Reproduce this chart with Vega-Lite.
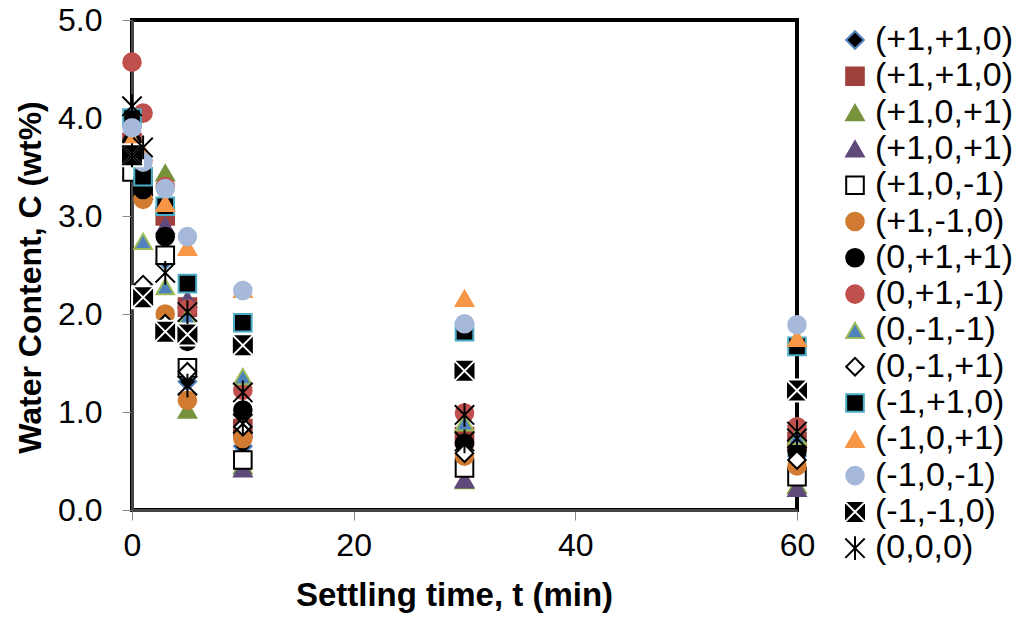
{
  "$schema": "https://vega.github.io/schema/vega-lite/v6.json",
  "width": 665,
  "height": 490,
  "autosize": "none",
  "padding": {"left": 132, "top": 20, "right": 220, "bottom": 112},
  "background": "white",
  "config": {
    "font": "Liberation Sans",
    "view": {"stroke": "black", "strokeWidth": 4},
    "axis": {"grid": false, "labelFont": "Liberation Sans", "titleFont": "Liberation Sans", "labelColor": "black", "titleColor": "black"}
  },
  "data": {
    "values": [
      {"s": "01|(+1,+1,0)", "t": 0, "c": 3.70}, {"s": "01|(+1,+1,0)", "t": 1, "c": 3.35}, {"s": "01|(+1,+1,0)", "t": 3, "c": 2.55}, {"s": "01|(+1,+1,0)", "t": 5, "c": 1.31}, {"s": "01|(+1,+1,0)", "t": 10, "c": 0.65}, {"s": "01|(+1,+1,0)", "t": 30, "c": 0.80}, {"s": "01|(+1,+1,0)", "t": 60, "c": 0.55},
      {"s": "02|(+1,+1,0)", "t": 0, "c": 3.75}, {"s": "02|(+1,+1,0)", "t": 1, "c": 3.40}, {"s": "02|(+1,+1,0)", "t": 3, "c": 3.00}, {"s": "02|(+1,+1,0)", "t": 5, "c": 2.07}, {"s": "02|(+1,+1,0)", "t": 10, "c": 0.83}, {"s": "02|(+1,+1,0)", "t": 30, "c": 0.75}, {"s": "02|(+1,+1,0)", "t": 60, "c": 0.70},
      {"s": "03|(+1,0,+1)", "t": 0, "c": 3.65}, {"s": "03|(+1,0,+1)", "t": 1, "c": 3.30}, {"s": "03|(+1,0,+1)", "t": 3, "c": 3.44}, {"s": "03|(+1,0,+1)", "t": 5, "c": 1.02}, {"s": "03|(+1,0,+1)", "t": 10, "c": 0.45}, {"s": "03|(+1,0,+1)", "t": 30, "c": 0.30}, {"s": "03|(+1,0,+1)", "t": 60, "c": 0.25},
      {"s": "04|(+1,0,+1)", "t": 0, "c": 3.60}, {"s": "04|(+1,0,+1)", "t": 1, "c": 3.25}, {"s": "04|(+1,0,+1)", "t": 3, "c": 2.90}, {"s": "04|(+1,0,+1)", "t": 5, "c": 2.15}, {"s": "04|(+1,0,+1)", "t": 10, "c": 0.42}, {"s": "04|(+1,0,+1)", "t": 30, "c": 0.31}, {"s": "04|(+1,0,+1)", "t": 60, "c": 0.22},
      {"s": "05|(+1,0,-1)", "t": 0, "c": 3.45}, {"s": "05|(+1,0,-1)", "t": 1, "c": 3.30}, {"s": "05|(+1,0,-1)", "t": 3, "c": 2.60}, {"s": "05|(+1,0,-1)", "t": 5, "c": 1.45}, {"s": "05|(+1,0,-1)", "t": 10, "c": 0.51}, {"s": "05|(+1,0,-1)", "t": 30, "c": 0.43}, {"s": "05|(+1,0,-1)", "t": 60, "c": 0.34},
      {"s": "06|(+1,-1,0)", "t": 0, "c": 3.70}, {"s": "06|(+1,-1,0)", "t": 1, "c": 3.17}, {"s": "06|(+1,-1,0)", "t": 3, "c": 2.00}, {"s": "06|(+1,-1,0)", "t": 5, "c": 1.12}, {"s": "06|(+1,-1,0)", "t": 10, "c": 0.73}, {"s": "06|(+1,-1,0)", "t": 30, "c": 0.55}, {"s": "06|(+1,-1,0)", "t": 60, "c": 0.45},
      {"s": "07|(0,+1,+1)", "t": 0, "c": 3.75}, {"s": "07|(0,+1,+1)", "t": 1, "c": 3.27}, {"s": "07|(0,+1,+1)", "t": 3, "c": 2.79}, {"s": "07|(0,+1,+1)", "t": 5, "c": 1.72}, {"s": "07|(0,+1,+1)", "t": 10, "c": 1.02}, {"s": "07|(0,+1,+1)", "t": 30, "c": 0.68}, {"s": "07|(0,+1,+1)", "t": 60, "c": 0.60},
      {"s": "08|(0,+1,-1)", "t": 0, "c": 4.57}, {"s": "08|(0,+1,-1)", "t": 1, "c": 4.05}, {"s": "08|(0,+1,-1)", "t": 3, "c": 3.30}, {"s": "08|(0,+1,-1)", "t": 5, "c": 2.05}, {"s": "08|(0,+1,-1)", "t": 10, "c": 1.22}, {"s": "08|(0,+1,-1)", "t": 30, "c": 0.99}, {"s": "08|(0,+1,-1)", "t": 60, "c": 0.85},
      {"s": "09|(0,-1,-1)", "t": 0, "c": 3.70}, {"s": "09|(0,-1,-1)", "t": 1, "c": 2.74}, {"s": "09|(0,-1,-1)", "t": 3, "c": 2.28}, {"s": "09|(0,-1,-1)", "t": 5, "c": 1.97}, {"s": "09|(0,-1,-1)", "t": 10, "c": 1.36}, {"s": "09|(0,-1,-1)", "t": 30, "c": 0.89}, {"s": "09|(0,-1,-1)", "t": 60, "c": 0.75},
      {"s": "10|(0,-1,+1)", "t": 0, "c": 3.60}, {"s": "10|(0,-1,+1)", "t": 1, "c": 2.30}, {"s": "10|(0,-1,+1)", "t": 3, "c": 1.90}, {"s": "10|(0,-1,+1)", "t": 5, "c": 1.41}, {"s": "10|(0,-1,+1)", "t": 10, "c": 0.85}, {"s": "10|(0,-1,+1)", "t": 30, "c": 0.58}, {"s": "10|(0,-1,+1)", "t": 60, "c": 0.51},
      {"s": "11|(-1,+1,0)", "t": 0, "c": 4.00}, {"s": "11|(-1,+1,0)", "t": 1, "c": 3.40}, {"s": "11|(-1,+1,0)", "t": 3, "c": 3.10}, {"s": "11|(-1,+1,0)", "t": 5, "c": 2.31}, {"s": "11|(-1,+1,0)", "t": 10, "c": 1.91}, {"s": "11|(-1,+1,0)", "t": 30, "c": 1.82}, {"s": "11|(-1,+1,0)", "t": 60, "c": 1.67},
      {"s": "12|(-1,0,+1)", "t": 0, "c": 3.78}, {"s": "12|(-1,0,+1)", "t": 1, "c": 3.65}, {"s": "12|(-1,0,+1)", "t": 3, "c": 3.13}, {"s": "12|(-1,0,+1)", "t": 5, "c": 2.68}, {"s": "12|(-1,0,+1)", "t": 10, "c": 2.25}, {"s": "12|(-1,0,+1)", "t": 30, "c": 2.16}, {"s": "12|(-1,0,+1)", "t": 60, "c": 1.75},
      {"s": "13|(-1,0,-1)", "t": 0, "c": 3.90}, {"s": "13|(-1,0,-1)", "t": 1, "c": 3.55}, {"s": "13|(-1,0,-1)", "t": 3, "c": 3.28}, {"s": "13|(-1,0,-1)", "t": 5, "c": 2.79}, {"s": "13|(-1,0,-1)", "t": 10, "c": 2.24}, {"s": "13|(-1,0,-1)", "t": 30, "c": 1.90}, {"s": "13|(-1,0,-1)", "t": 60, "c": 1.89},
      {"s": "14|(-1,-1,0)", "t": 0, "c": 3.62}, {"s": "14|(-1,-1,0)", "t": 1, "c": 2.17}, {"s": "14|(-1,-1,0)", "t": 3, "c": 1.82}, {"s": "14|(-1,-1,0)", "t": 5, "c": 1.79}, {"s": "14|(-1,-1,0)", "t": 10, "c": 1.68}, {"s": "14|(-1,-1,0)", "t": 30, "c": 1.42}, {"s": "14|(-1,-1,0)", "t": 60, "c": 1.22},
      {"s": "15|(0,0,0)", "t": 0, "c": 4.12}, {"s": "15|(0,0,0)", "t": 1, "c": 3.70}, {"s": "15|(0,0,0)", "t": 3, "c": 2.42}, {"s": "15|(0,0,0)", "t": 5, "c": 2.02}, {"s": "15|(0,0,0)", "t": 10, "c": 1.20}, {"s": "15|(0,0,0)", "t": 30, "c": 0.97}, {"s": "15|(0,0,0)", "t": 60, "c": 0.80},
      {"s": "15|(0,0,0)", "t": 0, "c": 3.62}, {"s": "15|(0,0,0)", "t": 5, "c": 1.27}, {"s": "15|(0,0,0)", "t": 10, "c": 0.88}, {"s": "15|(0,0,0)", "t": 30, "c": 0.70}, {"s": "15|(0,0,0)", "t": 60, "c": 0.73}
    ]
  },
  "mark": {"type": "point", "filled": true, "size": 310, "strokeWidth": 2, "opacity": 1},
  "encoding": {
    "x": {
      "field": "t", "type": "quantitative",
      "scale": {"domain": [0, 60], "nice": false},
      "axis": {"values": [0, 20, 40, 60], "title": "Settling time, t (min)", "titleFontSize": 33, "titleFontWeight": "bold", "labelFontSize": 32, "tickSize": 10, "tickColor": "#888", "domainColor": "#444", "domainWidth": 3, "labelPadding": 10, "titlePadding": 18, "titleX": 322, "labelFlush": false}
    },
    "y": {
      "field": "c", "type": "quantitative",
      "scale": {"domain": [0, 5], "nice": false},
      "axis": {"values": [0, 1, 2, 3, 4, 5], "format": ".1f", "title": "Water Content, C (wt%)", "titleFontSize": 32, "titleFontWeight": "bold", "labelFontSize": 32, "tickSize": 10, "tickColor": "#888", "domainColor": "#444", "domainWidth": 3, "labelPadding": 20, "titlePadding": 10, "titleY": 257, "labelFlush": false}
    },
    "shape": {
      "field": "s", "type": "nominal",
      "scale": {
        "domain": ["01|(+1,+1,0)", "02|(+1,+1,0)", "03|(+1,0,+1)", "04|(+1,0,+1)", "05|(+1,0,-1)", "06|(+1,-1,0)", "07|(0,+1,+1)", "08|(0,+1,-1)", "09|(0,-1,-1)", "10|(0,-1,+1)", "11|(-1,+1,0)", "12|(-1,0,+1)", "13|(-1,0,-1)", "14|(-1,-1,0)", "15|(0,0,0)"],
        "range": ["diamond", "square", "triangle-up", "triangle-up", "square", "circle", "circle", "circle", "triangle-up", "diamond", "square", "triangle-up", "circle", "M-1.25,-1.25H1.25V1.25H-1.25Z M-1.25,-1.25L1.25,1.25 M1.25,-1.25L-1.25,1.25", "M-1.1,-1.1L1.1,1.1 M1.1,-1.1L-1.1,1.1 M0,-1.35V1.35"]
      },
      "legend": {
        "title": null, "orient": "none", "legendX": 706, "legendY": 3,
        "labelExpr": "split(datum.label, '|')[1]", "labelFontSize": 34, "labelFont": "Liberation Sans", "labelColor": "black",
        "symbolSize": 310, "symbolStrokeWidth": 2, "rowPadding": 2.3, "labelOffset": 3, "symbolOpacity": 1
      }
    },
    "fill": {
      "field": "s", "type": "nominal",
      "scale": {
        "domain": ["01|(+1,+1,0)", "02|(+1,+1,0)", "03|(+1,0,+1)", "04|(+1,0,+1)", "05|(+1,0,-1)", "06|(+1,-1,0)", "07|(0,+1,+1)", "08|(0,+1,-1)", "09|(0,-1,-1)", "10|(0,-1,+1)", "11|(-1,+1,0)", "12|(-1,0,+1)", "13|(-1,0,-1)", "14|(-1,-1,0)", "15|(0,0,0)"],
        "range": ["#000000", "#A0403C", "#77933C", "#604A7B", "#FFFFFF", "#D07B31", "#000000", "#C0504D", "#4F81BD", "#FFFFFF", "#000000", "#F79646", "#A6B9DB", "#000000", "#000000"]
      }
    },
    "stroke": {
      "field": "s", "type": "nominal",
      "scale": {
        "domain": ["01|(+1,+1,0)", "02|(+1,+1,0)", "03|(+1,0,+1)", "04|(+1,0,+1)", "05|(+1,0,-1)", "06|(+1,-1,0)", "07|(0,+1,+1)", "08|(0,+1,-1)", "09|(0,-1,-1)", "10|(0,-1,+1)", "11|(-1,+1,0)", "12|(-1,0,+1)", "13|(-1,0,-1)", "14|(-1,-1,0)", "15|(0,0,0)"],
        "range": ["#4F81BD", "#A0403C", "#77933C", "#604A7B", "#000000", "#D07B31", "#000000", "#C0504D", "#9BBB59", "#000000", "#4BACC6", "#F79646", "#A6B9DB", "#FFFFFF", "#000000"]
      }
    }
  }
}
